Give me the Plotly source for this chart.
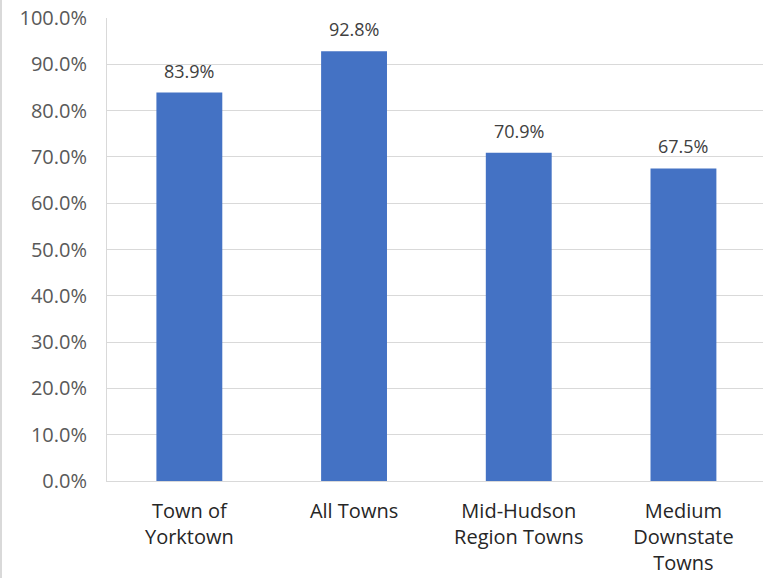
import plotly.graph_objects as go

categories = ["Town of<br>Yorktown", "All Towns", "Mid-Hudson<br>Region Towns", "Medium<br>Downstate<br>Towns"]
values = [83.9, 92.8, 70.9, 67.5]
y_ticks = [0, 10, 20, 30, 40, 50, 60, 70, 80, 90, 100]
y_tick_labels = [f"{v:.1f}%" for v in y_ticks]
value_labels = [f"{v:.1f}%" for v in values]

FONT = "Open Sans"
x_pos = list(range(len(categories)))

fig = go.Figure(
    go.Bar(
        x=x_pos,
        y=values,
        width=0.4,
        marker=dict(color="#4472C4", line=dict(width=0)),
        hoverinfo="skip",
    )
)

for xi, v, lab in zip(x_pos, values, value_labels):
    fig.add_annotation(
        x=xi, y=v, text=lab, showarrow=False,
        xanchor="center", yanchor="bottom", yshift=8,
        font=dict(family=FONT, size=18, color="#404040"),
    )

L, T, B = 107, 18, 97
W, H = 763, 578
PW = W - L
PH = H - T - B

fig.update_layout(
    width=W,
    height=H,
    margin=dict(l=L, r=0, t=T, b=B, autoexpand=False),
    paper_bgcolor="white",
    plot_bgcolor="white",
    showlegend=False,
    font=dict(family=FONT, size=20, color="#595959"),
    xaxis=dict(
        range=[-0.5, 3.483],
        tickmode="array",
        tickvals=x_pos,
        ticktext=categories,
        tickfont=dict(family=FONT, size=20, color="#262626"),
        showline=True,
        linecolor="#D9D9D9",
        linewidth=1,
        ticks="",
        showgrid=False,
        zeroline=False,
        ticklabelstandoff=12,
        automargin=False,
    ),
    yaxis=dict(
        range=[0, 100],
        tickmode="array",
        tickvals=y_ticks,
        ticktext=y_tick_labels,
        tickfont=dict(family=FONT, size=20, color="#595959"),
        showgrid=True,
        gridcolor="#D9D9D9",
        gridwidth=1,
        showline=True,
        linecolor="#D9D9D9",
        linewidth=1,
        zeroline=False,
        ticks="",
        ticklabelstandoff=15,
        ticklabeloverflow="allow",
        automargin=False,
    ),
    shapes=[
        dict(type="line", xref="paper", yref="paper",
             x0=-(L - 1) / PW, x1=-(L - 1) / PW, y0=-B / PH, y1=1 + T / PH,
             line=dict(color="#D9D9D9", width=2)),
    ],
)

fig.write_html(
    "out.html",
    config={"displayModeBar": False},
    post_script="document.body.style.margin='0';",
)
